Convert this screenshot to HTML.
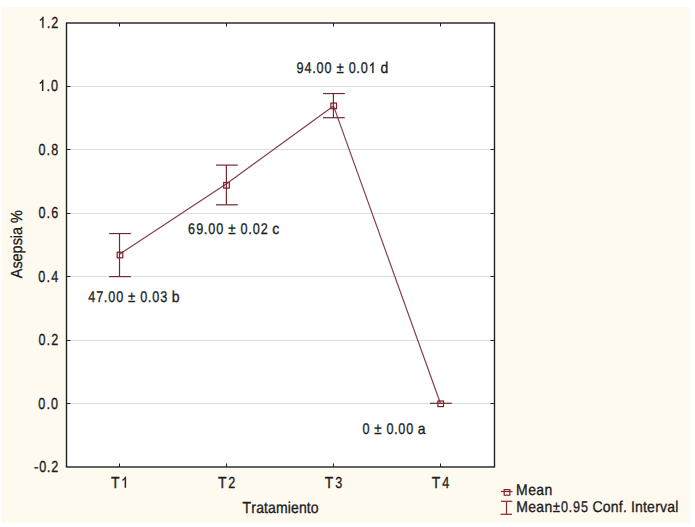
<!DOCTYPE html>
<html><head><meta charset="utf-8"><style>
html,body{margin:0;padding:0;background:#fff;width:695px;height:527px;overflow:hidden}
svg{display:block}
text{font-family:"Liberation Sans",sans-serif;fill:#1c1c1c;font-kerning:none;text-rendering:geometricPrecision;stroke:#1c1c1c;stroke-width:0.3px}
.g1{fill:#1c1c1c;stroke:#1c1c1c;stroke-width:0.3px;vector-effect:non-scaling-stroke}
</style></head><body>
<svg width="695" height="527" viewBox="0 0 695 527">
<rect x="0" y="0" width="695" height="527" fill="#fff"/>
<rect x="2" y="7" width="688" height="516" fill="#FFFAF0"/>
<rect x="65.0" y="21.5" width="431.0" height="447" fill="#fff"/>
<g stroke="#dcdcdc" stroke-width="1.2">
<line x1="66.5" y1="86.5" x2="494.5" y2="86.5"/>
<line x1="66.5" y1="149.5" x2="494.5" y2="149.5"/>
<line x1="66.5" y1="213.5" x2="494.5" y2="213.5"/>
<line x1="66.5" y1="276.5" x2="494.5" y2="276.5"/>
<line x1="66.5" y1="340.5" x2="494.5" y2="340.5"/>
<line x1="66.5" y1="403.5" x2="494.5" y2="403.5"/>
</g>
<rect x="66.5" y="23" width="428.0" height="444" fill="none" stroke="#1e1e1e" stroke-width="1.4"/>
<g stroke="#222" stroke-width="1">
<line x1="66.5" y1="86.5" x2="70.5" y2="86.5"/><line x1="494.5" y1="86.5" x2="490.5" y2="86.5"/>
<line x1="66.5" y1="149.5" x2="70.5" y2="149.5"/><line x1="494.5" y1="149.5" x2="490.5" y2="149.5"/>
<line x1="66.5" y1="213.5" x2="70.5" y2="213.5"/><line x1="494.5" y1="213.5" x2="490.5" y2="213.5"/>
<line x1="66.5" y1="276.5" x2="70.5" y2="276.5"/><line x1="494.5" y1="276.5" x2="490.5" y2="276.5"/>
<line x1="66.5" y1="340.5" x2="70.5" y2="340.5"/><line x1="494.5" y1="340.5" x2="490.5" y2="340.5"/>
<line x1="66.5" y1="403.5" x2="70.5" y2="403.5"/><line x1="494.5" y1="403.5" x2="490.5" y2="403.5"/>
<line x1="119.5" y1="467" x2="119.5" y2="463.5"/><line x1="119.5" y1="23" x2="119.5" y2="26.5"/>
<line x1="226.5" y1="467" x2="226.5" y2="463.5"/><line x1="226.5" y1="23" x2="226.5" y2="26.5"/>
<line x1="333.5" y1="467" x2="333.5" y2="463.5"/><line x1="333.5" y1="23" x2="333.5" y2="26.5"/>
<line x1="440.5" y1="467" x2="440.5" y2="463.5"/><line x1="440.5" y1="23" x2="440.5" y2="26.5"/>
</g>
<g font-size="14"><path class="g1" transform="translate(38.73,27.80) scale(0.00615,-0.00750)" d="M763 0L583 0L583 1147C540 1106 483 1065 413 1024C343 983 280 952 223 931L223 1105C323 1152 411 1209 486 1276C561 1343 614 1408 645 1471L763 1471Z"/><text transform="translate(46.78,27.80) scale(0.95,1.1429)">.</text><text transform="translate(51.33,27.80) scale(0.9,1.1429)">2</text></g>
<g font-size="14"><path class="g1" transform="translate(38.53,90.90) scale(0.00615,-0.00750)" d="M763 0L583 0L583 1147C540 1106 483 1065 413 1024C343 983 280 952 223 931L223 1105C323 1152 411 1209 486 1276C561 1343 614 1408 645 1471L763 1471Z"/><text transform="translate(46.49,90.90) scale(0.95,1.1429)">.</text><text transform="translate(50.98,90.90) scale(0.9,1.1429)">0</text></g>
<g font-size="14"><text transform="translate(38.41,155.00) scale(0.9,1.1429)">0</text><text transform="translate(46.62,155.00) scale(0.95,1.1429)">.</text><text transform="translate(51.24,155.00) scale(0.9,1.1429)">8</text></g>
<g font-size="14"><text transform="translate(38.41,217.60) scale(0.9,1.1429)">0</text><text transform="translate(46.62,217.60) scale(0.95,1.1429)">.</text><text transform="translate(51.25,217.60) scale(0.9,1.1429)">6</text></g>
<g font-size="14"><text transform="translate(38.31,281.70) scale(0.9,1.1429)">0</text><text transform="translate(46.60,281.70) scale(0.95,1.1429)">.</text><text transform="translate(51.26,281.70) scale(0.9,1.1429)">4</text></g>
<g font-size="14"><text transform="translate(38.41,344.50) scale(0.9,1.1429)">0</text><text transform="translate(46.54,344.50) scale(0.95,1.1429)">.</text><text transform="translate(51.13,344.50) scale(0.9,1.1429)">2</text></g>
<g font-size="14"><text transform="translate(38.21,408.60) scale(0.9,1.1429)">0</text><text transform="translate(46.38,408.60) scale(0.95,1.1429)">.</text><text transform="translate(50.98,408.60) scale(0.9,1.1429)">0</text></g>
<g font-size="14"><text transform="translate(34.01,471.80) scale(0.95,1.1429)">-</text><text transform="translate(39.19,471.80) scale(0.9,1.1429)">0</text><text transform="translate(46.80,471.80) scale(0.95,1.1429)">.</text><text transform="translate(51.13,471.80) scale(0.9,1.1429)">2</text></g>
<g font-size="14"><text transform="translate(110.89,487.70) scale(1.0,1.1429)">T</text><path class="g1" transform="translate(121.21,487.70) scale(0.00615,-0.00750)" d="M763 0L583 0L583 1147C540 1106 483 1065 413 1024C343 983 280 952 223 931L223 1105C323 1152 411 1209 486 1276C561 1343 614 1408 645 1471L763 1471Z"/></g>
<g font-size="14"><text transform="translate(217.99,487.70) scale(1.0,1.1429)">T</text><text transform="translate(228.23,487.70) scale(0.9,1.1429)">2</text></g>
<g font-size="14"><text transform="translate(324.69,487.70) scale(1.0,1.1429)">T</text><text transform="translate(335.15,487.70) scale(0.9,1.1429)">3</text></g>
<g font-size="14"><text transform="translate(431.69,487.70) scale(1.0,1.1429)">T</text><text transform="translate(442.36,487.70) scale(0.9,1.1429)">4</text></g>
<g font-size="14"><text transform="translate(242.39,513.00) scale(1.0,1.1429)">T</text><text transform="translate(251.27,513.00) scale(1.0,1.1429)">r</text><text transform="translate(256.17,513.00) scale(1.0,1.1429)">a</text><text transform="translate(264.07,513.00) scale(1.0,1.1429)">t</text><text transform="translate(268.09,513.00) scale(1.0,1.1429)">a</text><text transform="translate(276.10,513.00) scale(1.0,1.1429)">m</text><text transform="translate(287.80,513.00) scale(1.0,1.1429)">i</text><text transform="translate(290.94,513.00) scale(1.0,1.1429)">e</text><text transform="translate(298.88,513.00) scale(1.0,1.1429)">n</text><text transform="translate(306.78,513.00) scale(1.0,1.1429)">t</text><text transform="translate(310.80,513.00) scale(1.0,1.1429)">o</text></g>
<text transform="translate(21.70,278.23) rotate(-90)" x="0" y="0" textLength="68.14" lengthAdjust="spacingAndGlyphs" font-size="16">Asepsia %</text>
<g stroke="#742832" stroke-width="1.2" fill="none">
<polyline stroke="#84404c" points="119.5,254.3 226.5,183.8 333.5,105.9 440.5,403.5"/>
<line x1="119.5" y1="233.55" x2="119.5" y2="276.6"/>
<line x1="109.1" y1="233.55" x2="130.9" y2="233.55"/>
<line x1="109.1" y1="276.6" x2="130.9" y2="276.6"/>
<line x1="226.4" y1="165.1" x2="226.4" y2="204.8"/>
<line x1="216.0" y1="165.1" x2="237.8" y2="165.1"/>
<line x1="216.0" y1="204.8" x2="237.8" y2="204.8"/>
<line x1="333.4" y1="93.55" x2="333.4" y2="117.7"/>
<line x1="323.0" y1="93.55" x2="344.79999999999995" y2="93.55"/>
<line x1="323.0" y1="117.7" x2="344.79999999999995" y2="117.7"/>
<line x1="430" y1="403.3" x2="451.8" y2="403.3"/>
</g>
<g stroke="#7e1e26" stroke-width="1.2" fill="none">
<rect x="117.20" y="252.20" width="5.6" height="5.6"/>
<rect x="223.70" y="182.50" width="5.6" height="5.6"/>
<rect x="330.90" y="103.10" width="5.6" height="5.6"/>
<rect x="437.90" y="401.00" width="5.6" height="5.6"/>
</g>
<g font-size="14"><text transform="translate(88.21,301.60) scale(0.9,1.1071)">4</text><text transform="translate(96.21,301.60) scale(0.9,1.1071)">7</text><text transform="translate(103.86,301.60) scale(0.95,1.1071)">.</text><text transform="translate(108.21,301.60) scale(0.9,1.1071)">0</text><text transform="translate(116.20,301.60) scale(0.9,1.1071)">0</text><text transform="translate(128.06,301.60) scale(0.95,1.1071)">±</text><text transform="translate(140.20,301.60) scale(0.9,1.1071)">0</text><text transform="translate(147.85,301.60) scale(0.95,1.1071)">.</text><text transform="translate(152.20,301.60) scale(0.9,1.1071)">0</text><text transform="translate(160.19,301.60) scale(0.9,1.1071)">3</text><text transform="translate(171.80,301.60) scale(1.0,1.1071)">b</text></g>
<g font-size="14"><text transform="translate(188.06,234.20) scale(0.9,1.1071)">6</text><text transform="translate(196.14,234.20) scale(0.9,1.1071)">9</text><text transform="translate(203.87,234.20) scale(0.95,1.1071)">.</text><text transform="translate(208.25,234.20) scale(0.9,1.1071)">0</text><text transform="translate(216.33,234.20) scale(0.9,1.1071)">0</text><text transform="translate(228.30,234.20) scale(0.95,1.1071)">±</text><text transform="translate(240.56,234.20) scale(0.9,1.1071)">0</text><text transform="translate(248.29,234.20) scale(0.95,1.1071)">.</text><text transform="translate(252.67,234.20) scale(0.9,1.1071)">0</text><text transform="translate(260.75,234.20) scale(0.9,1.1071)">2</text><text transform="translate(272.37,234.20) scale(1.0,1.1071)">c</text></g>
<g font-size="14"><text transform="translate(296.41,73.00) scale(0.9,1.1071)">9</text><text transform="translate(304.45,73.00) scale(0.9,1.1071)">4</text><text transform="translate(312.14,73.00) scale(0.95,1.1071)">.</text><text transform="translate(316.50,73.00) scale(0.9,1.1071)">0</text><text transform="translate(324.54,73.00) scale(0.9,1.1071)">0</text><text transform="translate(336.45,73.00) scale(0.95,1.1071)">±</text><text transform="translate(348.65,73.00) scale(0.9,1.1071)">0</text><text transform="translate(356.35,73.00) scale(0.95,1.1071)">.</text><text transform="translate(360.71,73.00) scale(0.9,1.1071)">0</text><path class="g1" transform="translate(368.75,73.00) scale(0.00615,-0.00727)" d="M763 0L583 0L583 1147C540 1106 483 1065 413 1024C343 983 280 952 223 931L223 1105C323 1152 411 1209 486 1276C561 1343 614 1408 645 1471L763 1471Z"/><text transform="translate(380.42,73.00) scale(1.0,1.1071)">d</text></g>
<g font-size="14"><text transform="translate(362.61,433.80) scale(0.9,1.1071)">0</text><text transform="translate(374.35,433.80) scale(0.95,1.1071)">±</text><text transform="translate(386.39,433.80) scale(0.9,1.1071)">0</text><text transform="translate(393.98,433.80) scale(0.95,1.1071)">.</text><text transform="translate(398.28,433.80) scale(0.9,1.1071)">0</text><text transform="translate(406.21,433.80) scale(0.9,1.1071)">0</text><text transform="translate(417.71,433.80) scale(1.0,1.1071)">a</text></g>
<g stroke="#7e2830" stroke-width="1.2" fill="none">
<line x1="501" y1="491.5" x2="512.5" y2="491.5"/>
<rect x="504.2" y="489.6" width="5.6" height="5.6"/>
<line x1="506.5" y1="501.3" x2="506.5" y2="514.3"/>
<line x1="501" y1="501.3" x2="512.3" y2="501.3"/>
<line x1="500.5" y1="514.3" x2="512" y2="514.3"/>
</g>
<g font-size="14"><text transform="translate(516.05,495.20) scale(1.0,1.1071)">M</text><text transform="translate(528.22,495.20) scale(1.0,1.1071)">e</text><text transform="translate(536.37,495.20) scale(1.0,1.1071)">a</text><text transform="translate(544.52,495.20) scale(1.0,1.1071)">n</text></g>
<g font-size="14"><text transform="translate(516.25,511.80) scale(1.0,1.1071)">M</text><text transform="translate(528.27,511.80) scale(1.0,1.1071)">e</text><text transform="translate(536.33,511.80) scale(1.0,1.1071)">a</text><text transform="translate(544.38,511.80) scale(1.0,1.1071)">n</text><text transform="translate(552.68,511.80) scale(0.95,1.1071)">±</text><text transform="translate(560.88,511.80) scale(0.9,1.1071)">0</text><text transform="translate(568.60,511.80) scale(0.95,1.1071)">.</text><text transform="translate(572.97,511.80) scale(0.9,1.1071)">9</text><text transform="translate(581.02,511.80) scale(0.9,1.1071)">5</text><text transform="translate(592.56,511.80) scale(1.0,1.1071)">C</text><text transform="translate(602.79,511.80) scale(1.0,1.1071)">o</text><text transform="translate(610.84,511.80) scale(1.0,1.1071)">n</text><text transform="translate(618.85,511.80) scale(1.0,1.1071)">f</text><text transform="translate(622.97,511.80) scale(0.95,1.1071)">.</text><text transform="translate(630.93,511.80) scale(1.0,1.1071)">I</text><text transform="translate(635.01,511.80) scale(1.0,1.1071)">n</text><text transform="translate(643.01,511.80) scale(1.0,1.1071)">t</text><text transform="translate(647.09,511.80) scale(1.0,1.1071)">e</text><text transform="translate(655.21,511.80) scale(1.0,1.1071)">r</text><text transform="translate(660.08,511.80) scale(1.0,1.1071)">v</text><text transform="translate(667.23,511.80) scale(1.0,1.1071)">a</text><text transform="translate(675.13,511.80) scale(1.0,1.1071)">l</text></g>
</svg>
</body></html>
